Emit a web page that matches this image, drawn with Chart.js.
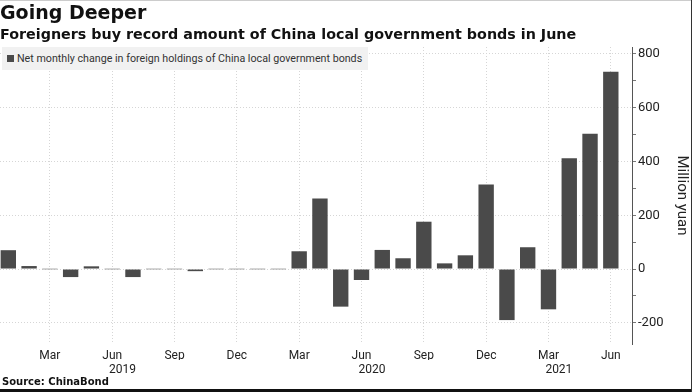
<!DOCTYPE html>
<html>
<head>
<meta charset="utf-8">
<script src="https://cdn.jsdelivr.net/npm/chart.js@4"></script>
<style>
  html, body { margin: 0; padding: 0; background: #fff; }
  #wrap { position: relative; width: 692px; height: 392px; overflow: hidden; background: #fff; }
  #c { position: absolute; left: 0; top: 0; }
  .t1 { position: absolute; left: 0; top: 1px; font: bold 19px "DejaVu Sans", sans-serif; color: #111; white-space: nowrap; }
  .t2 { position: absolute; left: 0; top: 26px; font: bold 14.3px "DejaVu Sans", sans-serif; color: #111; white-space: nowrap; }
  .leg { position: absolute; left: 2px; top: 47px; height: 23px; padding: 0 6px 0 5px; background: #f1f1f1;
         font: 10.7px Roboto, sans-serif; color: #333;
         line-height: 23px; white-space: nowrap; }
  .leg i { display: inline-block; width: 7px; height: 7px; background: #4a4a4a; margin-right: 3px; vertical-align: 0px; }
  .src { position: absolute; left: 2px; top: 376px; font: bold 10px "DejaVu Sans", sans-serif; color: #111; white-space: nowrap; }
  .bb { position: absolute; left: 0; top: 389px; width: 692px; height: 3px; background: #111; }
  .rb { position: absolute; left: 691px; top: 0; width: 1px; height: 392px; background: #333; }
  .tb { position: absolute; left: 0; top: 0; width: 692px; height: 1px; background: #ccc; }
</style>
</head>
<body>
<div id="wrap">
  <canvas id="c" width="692" height="392"></canvas>
  <div class="tb"></div>
  <div class="t1">Going Deeper</div>
  <div class="t2">Foreigners buy record amount of China local government bonds in June</div>
  <div class="leg"><i></i>Net monthly change in foreign holdings of China local government bonds</div>
  <div class="src">Source: ChinaBond</div>
  <div class="bb"></div>
  <div class="rb"></div>
</div>
<script>
// Months Jan 2019 .. Jun 2021
const months = [
  'Jan 2019','Feb 2019','Mar 2019','Apr 2019','May 2019','Jun 2019','Jul 2019','Aug 2019','Sep 2019','Oct 2019','Nov 2019','Dec 2019',
  'Jan 2020','Feb 2020','Mar 2020','Apr 2020','May 2020','Jun 2020','Jul 2020','Aug 2020','Sep 2020','Oct 2020','Nov 2020','Dec 2020',
  'Jan 2021','Feb 2021','Mar 2021','Apr 2021','May 2021','Jun 2021'
];
// Net monthly change, million yuan
const netChange = [
  70, 11, 0, -30, 10, 0, -30, 0, 0, -8, 0, 0,
  0, 0, 66, 262, -140, -41, 71, 40, 176, 21, 51, 314,
  -190, 81, -150, 412, 503, 734
];
const monthTickIdx = [2, 5, 8, 11, 14, 17, 20, 23, 26, 29];
const monthTickLabels = ['Mar','Jun','Sep','Dec','Mar','Jun','Sep','Dec','Mar','Jun'];
const yearTickIdx = [5.5, 17.5, 26.5];
const yearTickLabels = ['2019', '2020', '2021'];
const yTicks = [-200, 0, 200, 400, 600, 800];
const yMinorTicks = [-100, 100, 300, 500, 700];

const points = netChange.map((v, i) => ({ x: i, y: v }));
const labelFont = 'Roboto, sans-serif';

new Chart(document.getElementById('c'), {
  type: 'bar',
  data: {
    datasets: [{
      label: 'Net monthly change in foreign holdings of China local government bonds',
      data: points,
      backgroundColor: (ctx) => (ctx.raw && ctx.raw.y === 0) ? '#a8a8a8' : '#4a4a4a',
      borderWidth: 0,
      minBarLength: 1,
      categoryPercentage: 1,
      barPercentage: 0.74,
      xAxisID: 'x',
      yAxisID: 'y'
    }]
  },
  options: {
    responsive: false,
    animation: false,
    devicePixelRatio: 1,
    layout: { padding: { top: 47, left: 0, right: 0, bottom: 16 } },
    plugins: { legend: { display: false }, tooltip: { enabled: false } },
    scales: {
      x: {
        type: 'linear',
        position: 'bottom',
        offset: false,
        min: -0.4,
        max: 30.02,
        afterBuildTicks: (s) => { s.ticks = monthTickIdx.map(v => ({ value: v })); },
        afterFit: (s) => { s.height = 16; },
        ticks: {
          autoSkip: false,
          maxRotation: 0,
          padding: 5,
          color: '#222',
          font: { family: labelFont, size: 12 },
          callback: (v) => { const k = monthTickIdx.indexOf(v); return k >= 0 ? monthTickLabels[k] : ''; }
        },
        grid: { offset: false, drawTicks: false, color: '#d6d6d6', lineWidth: 1, tickLength: 0 },
        border: { display: false, dash: [1, 2] }
      },
      x2: {
        type: 'linear',
        position: 'bottom',
        offset: false,
        min: -0.4,
        max: 30.02,
        afterBuildTicks: (s) => { s.ticks = yearTickIdx.map(v => ({ value: v })); },
        afterFit: (s) => { s.height = 16; },
        ticks: {
          autoSkip: false,
          maxRotation: 0,
          padding: 3,
          color: '#222',
          font: { family: labelFont, size: 12 },
          callback: (v) => { const k = yearTickIdx.indexOf(v); return k >= 0 ? yearTickLabels[k] : ''; }
        },
        grid: { display: false, offset: false, drawTicks: false },
        border: { display: false }
      },
      y: {
        type: 'linear',
        position: 'right',
        min: -279,
        max: 826,
        afterBuildTicks: (s) => {
          s.ticks = yTicks.concat(yMinorTicks).sort((a, b) => a - b).map(v => ({ value: v }));
        },
        afterFit: (s) => { s.width = 60; },
        ticks: {
          autoSkip: false,
          padding: 2,
          color: '#222',
          font: { family: labelFont, size: 13 },
          callback: (v) => yTicks.includes(v) ? String(v) : ''
        },
        grid: {
          color: (ctx) => (ctx.tick && yTicks.includes(ctx.tick.value)) ? '#d6d6d6' : 'rgba(0,0,0,0)',
          tickColor: '#777',
          tickLength: 4,
          tickBorderDash: [],
          lineWidth: 1
        },
        border: { display: true, color: '#555', width: 1, dash: [1, 2] },
        title: {
          display: true,
          text: 'Million yuan',
          color: '#222',
          font: { family: labelFont, size: 15 },
          padding: { top: 1, bottom: 0 }
        }
      }
    }
  }
});
</script>
</body>
</html>
